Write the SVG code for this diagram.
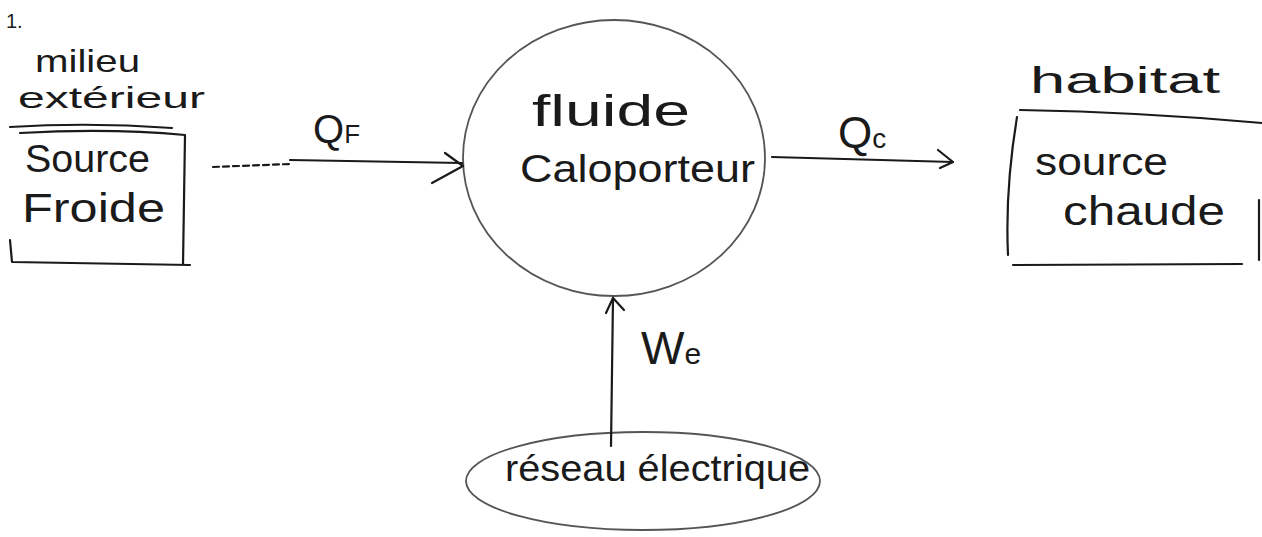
<svg xmlns="http://www.w3.org/2000/svg" width="1262" height="537" viewBox="0 0 1262 537">
<style>
.ink{fill:none;stroke:#1a1a1a;stroke-width:2.2;stroke-linecap:round;stroke-linejoin:round}
.faint{fill:none;stroke:#555;stroke-width:1.8;stroke-linecap:round}
.t{font-family:"Liberation Sans","DejaVu Sans",sans-serif;fill:#1a1a1a}
</style>
<rect width="1262" height="537" fill="#fff"/>
<text class="t" x="6" y="28" font-size="20">1.</text>
<g id="source-froide">
<text class="t" x="35" y="72" font-size="32" textLength="105" lengthAdjust="spacingAndGlyphs">milieu</text>
<text class="t" x="18" y="108" font-size="30" textLength="187" lengthAdjust="spacingAndGlyphs">extérieur</text>
<path class="ink" d="M10 127 Q90 122 172 128"/>
<path class="ink" d="M20 133 Q110 128 185 135 L183 265 M190 265 L12 262 L10 240"/>
<text class="t" x="25" y="172" font-size="38" textLength="125" lengthAdjust="spacingAndGlyphs">Source</text>
<text class="t" x="22" y="222" font-size="40" textLength="143" lengthAdjust="spacingAndGlyphs">Froide</text>
</g>
<g id="fluide">
<ellipse class="faint" cx="614" cy="158" rx="151" ry="138"/>
<text class="t" x="532" y="126" font-size="44" textLength="158" lengthAdjust="spacingAndGlyphs">fluide</text>
<text class="t" x="520" y="182" font-size="38" textLength="235" lengthAdjust="spacingAndGlyphs">Caloporteur</text>
</g>
<g id="source-chaude">
<text class="t" x="1030" y="93" font-size="36" textLength="190" lengthAdjust="spacingAndGlyphs">habitat</text>
<path class="ink" d="M1020 110 Q1140 112 1262 123"/>
<path class="ink" d="M1017 117 Q1005 190 1008 255"/>
<path class="ink" d="M1013 265 L1242 264"/>
<path class="ink" d="M1259 200 L1259 260"/>
<text class="t" x="1035" y="175" font-size="38" textLength="133" lengthAdjust="spacingAndGlyphs">source</text>
<text class="t" x="1063" y="225" font-size="40" textLength="162" lengthAdjust="spacingAndGlyphs">chaude</text>
</g>
<g id="reseau">
<ellipse class="faint" cx="643" cy="481" rx="177" ry="49"/>
<text class="t" x="505" y="481" font-size="36" textLength="305" lengthAdjust="spacingAndGlyphs">réseau électrique</text>
</g>
<g id="connectors">
<path class="ink" stroke-dasharray="6 4" stroke-width="1.6" d="M213 167 L290 164"/>
<path class="ink" d="M290 160 L462 163"/>
<path class="ink" d="M445 153 L463 166 L432 183"/>
<text class="t" x="313" y="143" font-size="40">Q<tspan font-size="26">F</tspan></text>
<path class="ink" d="M772 157 L953 162"/>
<path class="ink" d="M938 150 L953 162 L940 168"/>
<text class="t" x="838" y="148" font-size="44">Q<tspan font-size="28">c</tspan></text>
<path class="ink" d="M611 446 L613 298"/>
<path class="ink" d="M606 313 L613 298 L624 310"/>
<text class="t" x="641" y="364" font-size="46">W<tspan font-size="30">e</tspan></text>
</g>
</svg>
